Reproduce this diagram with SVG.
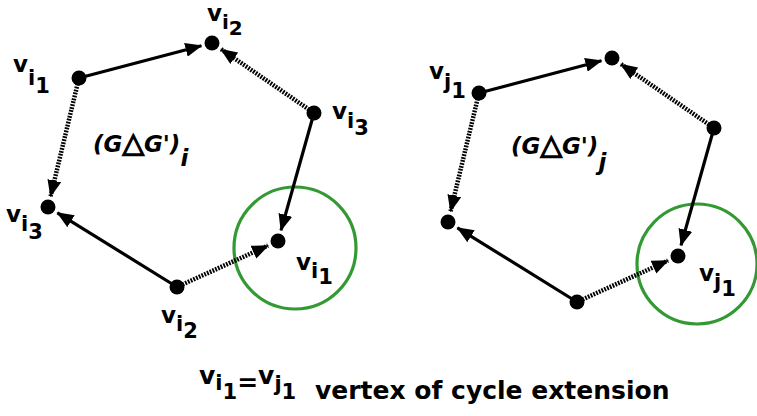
<svg xmlns="http://www.w3.org/2000/svg" width="757" height="416" viewBox="0 0 757 416">
<defs>
<style>
.lbl{font-family:"DejaVu Sans","Verdana",sans-serif;font-weight:bold;font-size:23px;fill:#000}
.sub{font-size:21px}
.ttl{font-family:"DejaVu Sans",sans-serif;font-weight:bold;font-style:italic;font-size:23px;fill:#000}
.tri{font-style:normal;font-size:28px;stroke:#000;stroke-width:1.5}
.cap{font-family:"DejaVu Sans",sans-serif;font-weight:bold;font-size:25px;fill:#000}
.node{fill:#000}
.e{fill:none;stroke:#000;stroke-width:3.2}
.d{fill:none;stroke:#000;stroke-width:4.5;stroke-dasharray:1.8 1.2}
.ring{fill:none;stroke:#339933;stroke-width:3.2}
</style>
<marker id="ah" markerUnits="userSpaceOnUse" markerWidth="17" markerHeight="14" viewBox="0 0 17 14" refX="16" refY="7" orient="auto">
<path d="M0,0 L17,7 L0,14 z" fill="#000"/>
</marker>
</defs>
<rect width="757" height="416" fill="#fff"/>
<g id="rings">
<circle class="ring" cx="295" cy="248" r="61"/>
<circle class="ring" cx="697" cy="264" r="60"/>
</g>
<g id="connectors">
<line class="e" x1="79" y1="78" x2="201.4" y2="45.8" marker-end="url(#ah)"/>
<line class="d" x1="314" y1="113" x2="221.1" y2="49.2" marker-end="url(#ah)"/>
<line class="d" x1="79" y1="78" x2="50.6" y2="196.3" marker-end="url(#ah)"/>
<line class="e" x1="177" y1="287" x2="57.4" y2="212.8" marker-end="url(#ah)"/>
<line class="e" x1="314" y1="113" x2="281" y2="230.4" marker-end="url(#ah)"/>
<line class="d" x1="177" y1="287" x2="268" y2="245.6" marker-end="url(#ah)"/>
<line class="e" x1="479" y1="93" x2="601.4" y2="60.8" marker-end="url(#ah)"/>
<line class="d" x1="714" y1="128" x2="621.1" y2="64.2" marker-end="url(#ah)"/>
<line class="d" x1="479" y1="93" x2="450.6" y2="211.3" marker-end="url(#ah)"/>
<line class="e" x1="577" y1="302" x2="457.4" y2="227.8" marker-end="url(#ah)"/>
<line class="e" x1="714" y1="128" x2="681" y2="245.4" marker-end="url(#ah)"/>
<line class="d" x1="577" y1="302" x2="668" y2="260.6" marker-end="url(#ah)"/>
</g>
<g id="vi1a"><circle class="node" cx="79" cy="78" r="7.5"/><text class="lbl" x="13" y="72">v<tspan class="sub" dy="13">i</tspan><tspan class="sub" dy="8">1</tspan></text></g>
<g id="vi2a"><circle class="node" cx="212" cy="43" r="7.5"/><text class="lbl" x="207" y="21" font-size="22">v<tspan font-size="20" dy="8">i</tspan><tspan font-size="20" dy="6">2</tspan></text></g>
<g id="vi3a"><circle class="node" cx="314" cy="113" r="7.5"/><text class="lbl" x="332" y="119">v<tspan class="sub" dy="9">i</tspan><tspan class="sub" dy="7">3</tspan></text></g>
<g id="vi3b"><circle class="node" cx="48" cy="207" r="7.5"/><text class="lbl" x="6" y="222">v<tspan class="sub" dy="9">i</tspan><tspan class="sub" dy="8">3</tspan></text></g>
<g id="vi2b"><circle class="node" cx="177" cy="287" r="7.5"/><text class="lbl" x="161" y="323">v<tspan class="sub" dy="8">i</tspan><tspan class="sub" dy="7">2</tspan></text></g>
<g id="vi1b"><circle class="node" cx="278" cy="241" r="7.5"/><text class="lbl" x="296" y="270">v<tspan class="sub" dy="8">i</tspan><tspan class="sub" dy="6">1</tspan></text></g>
<g id="titlei"><text class="ttl" x="93" y="152">(G<tspan class="tri">△</tspan>G')<tspan dy="14">i</tspan></text></g>
<g id="vj1a"><circle class="node" cx="479" cy="93" r="7.5"/><text class="lbl" x="429" y="79">v<tspan class="sub" dy="10">j</tspan><tspan class="sub" dy="9">1</tspan></text></g>
<g id="vj2a"><circle class="node" cx="612" cy="58" r="7.5"/></g>
<g id="vj3a"><circle class="node" cx="714" cy="128" r="7.5"/></g>
<g id="vj3b"><circle class="node" cx="448" cy="222" r="7.5"/></g>
<g id="vj2b"><circle class="node" cx="577" cy="302" r="7.5"/></g>
<g id="vj1b"><circle class="node" cx="678" cy="256" r="7.5"/><text class="lbl" x="699" y="281">v<tspan class="sub" dy="8">j</tspan><tspan class="sub" dy="7">1</tspan></text></g>
<g id="titlej"><text class="ttl" x="511" y="154">(G<tspan class="tri">△</tspan>G')<tspan dy="16">j</tspan></text></g>
<g id="caption"><text class="cap" x="199" y="384" font-size="23">v<tspan font-size="21" dy="6">i</tspan><tspan font-size="21" dy="9">1</tspan><tspan dy="-8">=</tspan><tspan dy="-7">v</tspan><tspan font-size="21" dy="7">j</tspan><tspan font-size="21" dy="8">1</tspan></text><text class="cap" x="315" y="399">vertex of cycle extension</text></g>
</svg>
